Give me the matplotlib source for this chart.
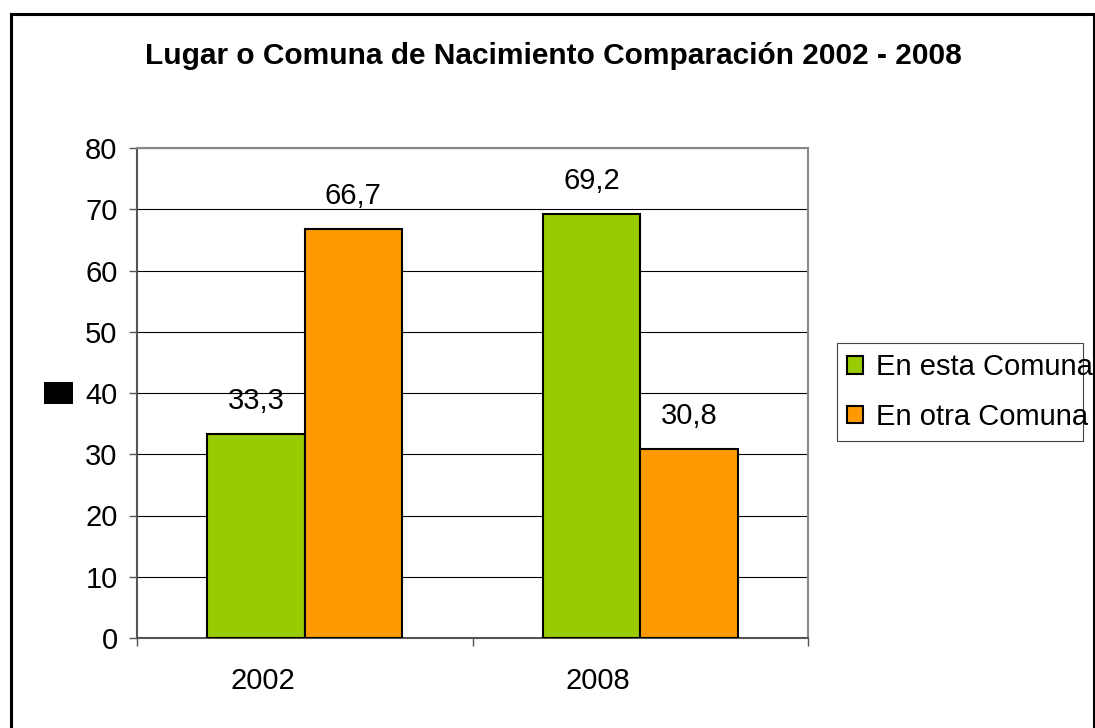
import matplotlib
matplotlib.use("Agg")
import matplotlib.pyplot as plt
import matplotlib.transforms as mtransforms
from matplotlib.patches import Rectangle
import numpy as np

plt.rcParams['font.family'] = ['Liberation Sans', 'DejaVu Sans']

title = "Lugar o Comuna de Nacimiento Comparación 2002 - 2008"
categories = ["2002", "2008"]
series_names = ["En esta Comuna", "En otra Comuna"]
en_esta = [33.3, 69.2]
en_otra = [66.7, 30.8]
colors = ["#99CC00", "#FF9900"]
yticks = [0, 10, 20, 30, 40, 50, 60, 70, 80]

W, H = 1095, 728
FS = 21
fig = plt.figure(figsize=(W / 100, H / 100), dpi=100)
ax = fig.add_axes([137 / W, 1 - 638 / H, (808 - 137) / W, (638 - 148) / H])

x = np.arange(len(categories))
bw = 0.29
vals = [en_esta, en_otra]
for i, (name, v, c) in enumerate(zip(series_names, vals, colors)):
    pos = x + (i - 0.5) * bw
    bars = ax.bar(pos, v, width=bw, color=c, edgecolor="black", linewidth=1.5,
                  label=name, zorder=3)
    for b, val in zip(bars, v):
        ax.annotate(f"{val:.1f}".replace(".", ","),
                    (b.get_x() + b.get_width() / 2, b.get_height()),
                    xytext=(0, 14), textcoords="offset points",
                    ha="center", va="bottom", fontsize=FS, color="black")

ax.set_xlim(-0.5, len(categories) - 0.5)
ax.set_ylim(0, 80)
ax.set_yticks(yticks)
ax.set_yticklabels([str(t) for t in yticks])
ax.yaxis.grid(True, color="black", linewidth=0.8, zorder=0)
ax.set_axisbelow(True)

ax.set_xticks(x)
ax.set_xticklabels(categories)
ax.set_xticks(np.arange(len(categories) + 1) - 0.5, minor=True)
ax.tick_params(axis="x", which="major", length=0, pad=21, labelsize=FS)
ax.tick_params(axis="x", which="minor", length=6, width=1, color="#555555", direction="out")
ax.tick_params(axis="y", length=6, width=1, color="#555555", pad=8, labelsize=FS)
offset = mtransforms.ScaledTranslation(-42 / 100, 0, fig.dpi_scale_trans)
for lab in ax.get_xticklabels():
    lab.set_transform(lab.get_transform() + offset)

for side in ["left", "bottom"]:
    ax.spines[side].set_color("#555555")
    ax.spines[side].set_linewidth(1.5)
for side in ["top", "right"]:
    ax.spines[side].set_color("#888888")
    ax.spines[side].set_linewidth(1.5)

# legend (text overflows its box in the reference, so frame drawn separately)
leg = fig.legend(loc="center left", bbox_to_anchor=(847 / W, 1 - 392 / H),
                 fontsize=FS, frameon=False,
                 handlelength=0.55, handleheight=0.55, handletextpad=0.45,
                 borderpad=0, labelspacing=0.75, borderaxespad=0)
for h in leg.legend_handles:
    h.set_linewidth(1.5)
fig.patches.append(Rectangle((837 / W, 1 - 441 / H), (1083 - 837) / W, (441 - 343) / H,
                             transform=fig.transFigure, fill=False,
                             edgecolor="#444444", linewidth=0.8))

fig.text(553 / W, 1 - 56 / H, title, ha="center", va="center",
         fontsize=21.5, fontweight="bold")

# figure border
fig.patches.append(Rectangle((10.5 / W, -0.05), (1093.5 - 10.5) / W, 1.05 - 14 / H,
                             transform=fig.transFigure, fill=False,
                             edgecolor="black", linewidth=2.2, clip_on=False))
# small black square artifact at left
fig.patches.append(Rectangle((44 / W, 1 - 404 / H), 29 / W, 22 / H,
                             transform=fig.transFigure, facecolor="black",
                             edgecolor="none"))

fig.savefig("out.png", dpi=100)
